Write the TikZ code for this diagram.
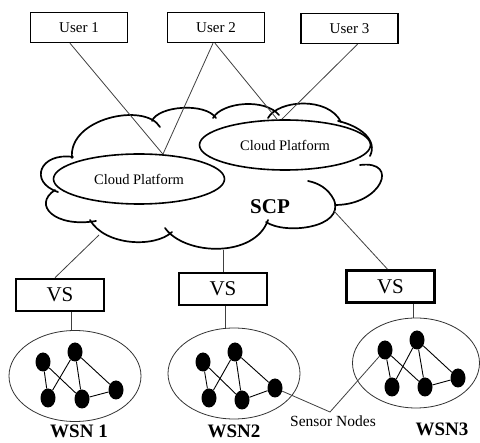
\documentclass[tikz,border=0pt]{standalone}
\usepackage{fontspec}
\setmainfont{Liberation Serif}
\usetikzlibrary{shapes.geometric}
\begin{document}
\begin{tikzpicture}[x=1pt,y=-1pt,
  userbox/.style={draw,line width=1.5pt,minimum width=97pt,minimum height=30pt,inner sep=0pt,font=\fontsize{15}{18}\selectfont},
  vsbox/.style={draw,line width=2.6pt,minimum width=88pt,minimum height=32pt,inner sep=0pt,font=\fontsize{21}{24}\selectfont},
  cp/.style={ellipse,draw,line width=1.6pt,fill=white,minimum width=171pt,minimum height=50pt,inner sep=0pt,font=\fontsize{14.5}{17}\selectfont},
  wsn/.style={ellipse,draw=black!80,line width=0.8pt,minimum width=132pt,minimum height=91pt,inner sep=0pt},
  sensor/.style={ellipse,fill=black,minimum width=15pt,minimum height=19pt,inner sep=0pt},
  link/.style={draw=black!75,line width=0.8pt},
  netline/.style={draw=black,line width=0.9pt},
  cloudline/.style={draw,line width=1.7pt,line cap=round},
  lbl/.style={font=\fontsize{19}{22}\selectfont\bfseries,anchor=base,inner sep=0pt}
]
\useasboundingbox[fill=white] (0,0) rectangle (480,443);

% cloud outline
\draw[cloudline] (58,192) .. controls (28,182) and (40,152) .. (73,157);
\draw[cloudline] (72,158) .. controls (68,118) and (145,102) .. (160,127);
\draw[cloudline] (152,121) .. controls (158,106) and (205,102) .. (216,118);
\draw[cloudline] (213,118) .. controls (222,102) and (265,98) .. (279,115);
\draw[cloudline] (268,118) .. controls (278,100) and (328,96) .. (341,122);
\draw[cloudline] (360,165) .. controls (400,160) and (382,205) .. (335,205);
\draw[cloudline] (266,222) .. controls (285,235) and (345,228) .. (334,200) .. controls (328,188) and (318,183) .. (308,181);
\draw[cloudline] (165,228) .. controls (185,256) and (255,258) .. (268,220);
\draw[cloudline] (90,220) .. controls (105,246) and (155,248) .. (172,232);
\draw[cloudline] (55,190) .. controls (32,205) and (55,228) .. (96,221);
\coordinate (c1) at (99,235);
\coordinate (c2) at (223,250);
\coordinate (c3) at (334,211);

% cloud platforms
\node[cp] (lcp) at (139,179) {Cloud Platform};
\node[cp] (rcp) at (285,145) {Cloud Platform};
\draw[cloudline] (338,121) .. controls (360,126) and (378,140) .. (370,156);
\node[font=\fontsize{21}{24}\selectfont\bfseries] (scp) at (270,207) {SCP};

% users
\node[userbox] (u1) at (79,27.5) {User 1};
\node[userbox] (u2) at (216,27.5) {User 2};
\node[userbox] (u3) at (349.5,28.5) {User 3};
\draw[link] ([xshift=-9pt]u1.south) -- (lcp.46);
\draw[link] ([xshift=-3pt]u2.south) -- (lcp.46);
\draw[link] ([xshift=-1pt]u2.south) -- (rcp.107);
\draw[link] ([xshift=8pt]u3.south) -- (rcp.97);

% VS boxes
\node[vsbox] (vs1) at (60,295) {VS};
\node[vsbox] (vs2) at (223,289) {VS};
\node[vsbox] (vs3) at (390.5,286.5) {VS};
\draw[link] (c1) -- ([xshift=-5pt]vs1.north);
\draw[link] (c2) -- (c2 |- vs2.north);
\draw[link] (c3) -- ([xshift=-3pt]vs3.north);

% WSN ellipses
\node[wsn] (wsn1) at (75,376) {};
\node[wsn] (wsn2) at (234,373.5) {};
\node[wsn, minimum width=127pt, minimum height=90pt] (wsn3) at (416,363) {};
\draw[link] ([xshift=11pt]vs1.south) -- ([xshift=11pt]vs1.south |- wsn1.north);
\draw[link] ([xshift=2pt]vs2.south) -- ([xshift=2pt]vs2.south |- wsn2.north);
\draw[link] ([xshift=22.5pt]vs3.south) -- ([xshift=22.5pt]vs3.south |- wsn3.north);

% sensor nodes WSN1
\node[sensor] (w1a) at (43,362) {};
\node[sensor] (w1b) at (75,352) {};
\node[sensor] (w1c) at (48,398) {};
\node[sensor] (w1d) at (82,399) {};
\node[sensor] (w1e) at (116,390) {};
% WSN2
\node[sensor] (w2a) at (203,362) {};
\node[sensor] (w2b) at (235,352) {};
\node[sensor] (w2c) at (209,398) {};
\node[sensor] (w2d) at (242,400) {};
\node[sensor] (w2e) at (275,388) {};
% WSN3
\node[sensor] (w3a) at (385,350) {};
\node[sensor] (w3b) at (417,340) {};
\node[sensor] (w3c) at (392,387) {};
\node[sensor] (w3d) at (425,387) {};
\node[sensor] (w3e) at (458,378) {};

\foreach \w in {w1,w2,w3}{
  \draw[netline] (\w a) -- (\w c);
  \draw[netline] (\w a) -- (\w d);
  \draw[netline] (\w b) -- (\w c);
  \draw[netline] (\w b) -- (\w d);
  \draw[netline] (\w b) -- (\w e);
  \draw[netline] (\w d) -- (\w e);
}

% sensor nodes label
\coordinate (sn) at (330,412);
\draw[link] (w2e) -- (sn) -- (w3a);
\node[font=\fontsize{15.5}{18}\selectfont] (snl) at (333,421) {Sensor Nodes};

% WSN labels
\node[lbl] (l1) at (79,438) {WSN 1};
\node[lbl] (l2) at (234,438) {WSN2};
\node[lbl] (l3) at (442,436) {WSN3};
\end{tikzpicture}
\end{document}
